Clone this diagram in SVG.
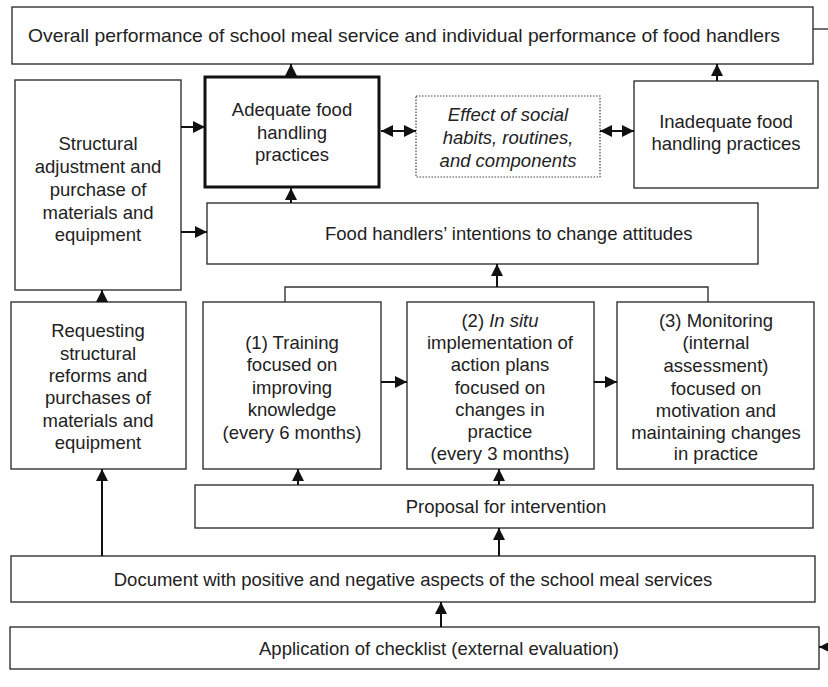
<svg xmlns="http://www.w3.org/2000/svg" width="828" height="687" viewBox="0 0 828 687">
  <defs>
    <marker id="ah" viewBox="0 0 10 10" refX="10" refY="5" markerWidth="12" markerHeight="12" markerUnits="userSpaceOnUse" orient="auto-start-reverse">
      <path d="M0,0 L10,5 L0,10 Z" fill="#111"/>
    </marker>
    <style>
      .box { fill: #fff; stroke: #333; stroke-width: 1.4; }
      .thick { fill: #fff; stroke: #111; stroke-width: 3; }
      .dot { fill: #fff; stroke: #444; stroke-width: 1.2; stroke-dasharray: 1.5 1.5; }
      text { font-family: "Liberation Sans", Arial, sans-serif; font-size: 18.5px; fill: #222; text-anchor: middle; }
      .it { font-style: italic; }
      .st { text-anchor: start; }
      .thin { fill: none; stroke: #333; stroke-width: 1.4; }
      .arr { fill: none; stroke: #111; stroke-width: 2; marker-end: url(#ah); }
      .dbl { fill: none; stroke: #111; stroke-width: 2; marker-end: url(#ah); marker-start: url(#ah); }
    </style>
  </defs>

  <rect width="828" height="687" fill="#fff"/>

  <!-- nodes -->
  <g id="overall">
    <rect class="box" x="12" y="7" width="801" height="57"/>
    <text x="404" y="42" textLength="752" lengthAdjust="spacingAndGlyphs">Overall performance of school meal service and individual performance of food handlers</text>
  </g>

  <g id="structural">
    <rect class="box" x="15" y="80" width="166" height="210"/>
    <text x="98" y="150">Structural</text>
    <text x="98" y="173">adjustment and</text>
    <text x="98" y="196">purchase of</text>
    <text x="98" y="219">materials and</text>
    <text x="98" y="241">equipment</text>
  </g>

  <g id="adequate">
    <rect class="thick" x="205" y="77" width="174" height="110"/>
    <text x="292" y="116">Adequate food</text>
    <text x="292" y="139">handling</text>
    <text x="292" y="161">practices</text>
  </g>

  <g id="social">
    <rect class="dot" x="416" y="96" width="184" height="81"/>
    <text class="it" x="508" y="121">Effect of social</text>
    <text class="it" x="508" y="144">habits, routines,</text>
    <text class="it" x="508" y="167">and components</text>
  </g>

  <g id="inadequate">
    <rect class="box" x="634" y="81" width="184" height="107"/>
    <text x="726" y="128">Inadequate food</text>
    <text x="726" y="150">handling practices</text>
  </g>

  <g id="intentions">
    <rect class="box" x="207" y="203" width="551" height="61"/>
    <text class="st" x="325" y="240">Food handlers’ intentions to change attitudes</text>
  </g>

  <g id="requesting">
    <rect class="box" x="11" y="302" width="175" height="167"/>
    <text x="98" y="337">Requesting</text>
    <text x="98" y="360">structural</text>
    <text x="98" y="382">reforms and</text>
    <text x="98" y="404">purchases of</text>
    <text x="98" y="427">materials and</text>
    <text x="98" y="449">equipment</text>
  </g>

  <g id="training">
    <rect class="box" x="203" y="302" width="178" height="167"/>
    <text x="292" y="349">(1) Training</text>
    <text x="292" y="371">focused on</text>
    <text x="292" y="394">improving</text>
    <text x="292" y="416">knowledge</text>
    <text x="292" y="439">(every 6 months)</text>
  </g>

  <g id="insitu">
    <rect class="box" x="407" y="302" width="187" height="167"/>
    <text x="500" y="327">(2) <tspan class="it">In situ</tspan></text>
    <text x="500" y="349">implementation of</text>
    <text x="500" y="371">action plans</text>
    <text x="500" y="394">focused on</text>
    <text x="500" y="416">changes in</text>
    <text x="500" y="438">practice</text>
    <text x="500" y="460">(every 3 months)</text>
  </g>

  <g id="monitoring">
    <rect class="box" x="617" y="302" width="197" height="167"/>
    <text x="716" y="327">(3) Monitoring</text>
    <text x="716" y="349">(internal</text>
    <text x="716" y="372">assessment)</text>
    <text x="716" y="395">focused on</text>
    <text x="716" y="417">motivation and</text>
    <text x="716" y="439">maintaining changes</text>
    <text x="716" y="460">in practice</text>
  </g>

  <g id="proposal">
    <rect class="box" x="195" y="485" width="618" height="43"/>
    <text x="506" y="513">Proposal for intervention</text>
  </g>

  <g id="document">
    <rect class="box" x="11" y="556" width="804" height="46"/>
    <text x="413" y="586">Document with positive and negative aspects of the school meal services</text>
  </g>

  <g id="checklist">
    <rect class="box" x="10" y="627" width="809" height="42"/>
    <text class="st" x="259" y="655">Application of checklist (external evaluation)</text>
  </g>

  <!-- connectors -->
  <g id="connectors">
    <!-- upward flows into the overall performance box -->
    <path class="arr" d="M291,77 V64"/>
    <path class="arr" d="M717,81 V64"/>
    <!-- feedback stubs at the right edge -->
    <path class="thin" d="M813,29 H828"/>
    <path class="arr" d="M828,647 H819"/>
    <!-- structural adjustment outputs -->
    <path class="arr" d="M181,127 H205"/>
    <path class="arr" d="M181,232 H207"/>
    <!-- social habits links -->
    <path class="dbl" d="M381,131 H416"/>
    <path class="dbl" d="M600,131 H634"/>
    <!-- intentions to adequate practices -->
    <path class="arr" d="M291,203 V188"/>
    <!-- bracket joining the three intervention steps -->
    <path class="thin" d="M285,302 V287 H708 V302"/>
    <path class="arr" d="M497,287 V264"/>
    <!-- step sequence -->
    <path class="arr" d="M381,382 H407"/>
    <path class="arr" d="M594,382 H617"/>
    <!-- proposal to steps -->
    <path class="arr" d="M298,485 V469"/>
    <path class="arr" d="M499,485 V469"/>
    <!-- document to proposal and requesting -->
    <path class="arr" d="M499,556 V528"/>
    <path class="arr" d="M102,556 V469"/>
    <!-- requesting to structural adjustment -->
    <path class="arr" d="M102,302 V290"/>
    <!-- checklist to document -->
    <path class="arr" d="M441,627 V602"/>
  </g>
</svg>
